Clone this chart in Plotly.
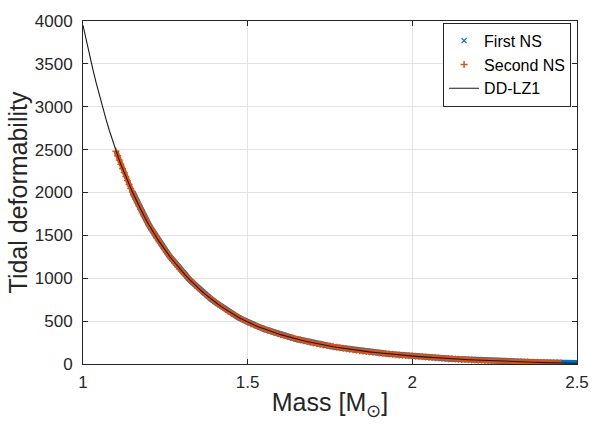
import plotly.graph_objects as go

# DD-LZ1 curve: mass [M_sun] and tidal deformability
mass = [1.00, 1.01, 1.02, 1.03, 1.04, 1.05, 1.06, 1.07, 1.08, 1.09,
        1.100, 1.105, 1.110, 1.115, 1.120, 1.125, 1.130, 1.135, 1.140, 1.145,
        1.150, 1.155, 1.160, 1.165, 1.170, 1.175, 1.180, 1.185, 1.190, 1.195,
        1.200, 1.205, 1.210, 1.215, 1.220, 1.225, 1.230, 1.235, 1.240, 1.245,
        1.250, 1.255, 1.260, 1.265, 1.270, 1.275, 1.280, 1.285, 1.290, 1.295,
        1.300, 1.31, 1.32, 1.33, 1.34, 1.35, 1.36, 1.37, 1.38, 1.39,
        1.40, 1.41, 1.42, 1.43, 1.44, 1.45, 1.46, 1.47, 1.48, 1.49,
        1.50, 1.51, 1.52, 1.53, 1.54, 1.55, 1.56, 1.57, 1.58, 1.59,
        1.60, 1.61, 1.62, 1.63, 1.64, 1.65, 1.66, 1.67, 1.68, 1.69,
        1.70, 1.71, 1.72, 1.73, 1.74, 1.75, 1.76, 1.77, 1.78, 1.79,
        1.80, 1.81, 1.82, 1.83, 1.84, 1.85, 1.86, 1.87, 1.88, 1.89,
        1.90, 1.91, 1.92, 1.93, 1.94, 1.95, 1.96, 1.97, 1.98, 1.99,
        2.00, 2.01, 2.02, 2.03, 2.04, 2.05, 2.06, 2.07, 2.08, 2.09,
        2.10, 2.11, 2.12, 2.13, 2.14, 2.15, 2.16, 2.17, 2.18, 2.19,
        2.20, 2.21, 2.22, 2.23, 2.24, 2.25, 2.26, 2.27, 2.28, 2.29,
        2.30, 2.31, 2.32, 2.33, 2.34, 2.35, 2.36, 2.37, 2.38, 2.39,
        2.40, 2.41, 2.42, 2.43, 2.44, 2.45, 2.46, 2.47, 2.48, 2.49,
        2.50]

tidal = [3950.0, 3770.5, 3599.2, 3435.7, 3279.6, 3130.6, 2988.3, 2852.5, 2722.9, 2599.2,
         2481.1, 2428.8, 2377.7, 2327.7, 2278.8, 2230.9, 2184.0, 2138.1, 2093.1, 2049.1,
         2006.0, 1963.8, 1922.5, 1882.1, 1842.5, 1803.8, 1765.9, 1728.8, 1692.4, 1656.8,
         1622.0, 1589.5, 1557.6, 1526.4, 1495.8, 1465.8, 1436.4, 1407.6, 1379.4, 1351.7,
         1324.6, 1298.0, 1272.0, 1246.5, 1221.5, 1197.0, 1173.0, 1149.5, 1126.5, 1103.9,
         1081.8, 1039.4, 998.6, 959.4, 921.8, 885.7, 851.0, 817.6, 785.5, 754.7,
         725.1, 696.7, 669.4, 643.2, 618.0, 593.8, 570.5, 548.1, 526.6, 506.0,
         486.2, 469.5, 453.4, 437.8, 422.7, 408.2, 394.2, 380.6, 367.5, 354.9,
         342.7, 331.4, 320.5, 309.9, 299.7, 289.8, 280.3, 271.1, 262.2, 253.6,
         245.2, 237.4, 229.8, 222.5, 215.4, 208.5, 201.8, 195.3, 189.1, 183.1,
         177.2, 171.6, 166.2, 161.0, 155.9, 151.0, 146.2, 141.6, 137.1, 132.8,
         128.6, 124.4, 120.4, 116.5, 112.7, 109.0, 105.5, 102.1, 98.8, 95.6,
         92.5, 89.3, 86.2, 83.2, 80.3, 77.5, 74.8, 72.2, 69.7, 67.3,
         65.0, 62.6, 60.3, 58.1, 55.9, 53.8, 51.8, 49.9, 48.0, 46.2,
         44.5, 42.6, 40.8, 39.1, 37.5, 35.9, 34.4, 33.0, 31.6, 30.3,
         29.0, 27.6, 26.3, 25.0, 23.8, 22.6, 21.5, 20.5, 19.5, 18.5,
         17.6, 16.5, 15.5, 14.5, 13.6, 12.7, 11.9, 11.2, 10.5, 9.8,
         9.2]

# Mass ranges covered by the two stars of the binary
first_ns_range = (1.15, 2.50)
second_ns_range = (1.10, 2.45)

first_m = [m for m in mass if first_ns_range[0] <= m <= first_ns_range[1]]
first_l = [l for m, l in zip(mass, tidal) if first_ns_range[0] <= m <= first_ns_range[1]]
second_m = [m for m in mass if second_ns_range[0] <= m <= second_ns_range[1]]
second_l = [l for m, l in zip(mass, tidal) if second_ns_range[0] <= m <= second_ns_range[1]]

x_ticks = [1, 1.5, 2, 2.5]
x_ticktext = ["1", "1.5", "2", "2.5"]
y_ticks = [0, 500, 1000, 1500, 2000, 2500, 3000, 3500, 4000]

BLUE = "#0072BD"
ORANGE = "#D95319"
AX = "#262626"
FONT = "Liberation Sans, Arial, Helvetica, sans-serif"

fig = go.Figure()
# Dense marker samples: in the original they overlap into continuous bands
fig.add_trace(go.Scatter(
    x=first_m, y=first_l, mode="lines+markers", showlegend=False, hoverinfo="skip",
    line=dict(color=BLUE, width=6.2),
    marker=dict(symbol="x-thin", size=4, color=BLUE, line=dict(color=BLUE, width=1)),
))
fig.add_trace(go.Scatter(
    x=second_m, y=second_l, mode="lines+markers", showlegend=False, hoverinfo="skip",
    line=dict(color=ORANGE, width=5),
    marker=dict(symbol="cross-thin", size=5, color=ORANGE, line=dict(color=ORANGE, width=1.3)),
))
# legend entries
fig.add_trace(go.Scatter(
    x=[None], y=[None], mode="markers", name="First NS",
    marker=dict(symbol="x-thin", size=5, color=BLUE, line=dict(color=BLUE, width=1.3)),
))
fig.add_trace(go.Scatter(
    x=[None], y=[None], mode="markers", name="Second NS",
    marker=dict(symbol="cross-thin", size=5, color=ORANGE, line=dict(color=ORANGE, width=1.5)),
))
fig.add_trace(go.Scatter(
    x=mass, y=tidal, mode="lines", name="DD-LZ1",
    line=dict(color="#1a1a1a", width=1.1),
))

axis_common = dict(
    showline=True, linecolor=AX, linewidth=1, mirror="ticks",
    ticks="inside", ticklen=5, tickwidth=1, tickcolor=AX,
    showgrid=True, gridcolor="#e3e3e3", gridwidth=1, zeroline=False,
    tickfont=dict(family=FONT, size=17, color=AX),
)

fig.update_layout(
    width=601, height=427,
    margin=dict(l=83, r=14, t=15, b=63, pad=0),
    paper_bgcolor="white", plot_bgcolor="white",
    font=dict(family=FONT, color=AX),
    xaxis=dict(range=[1, 2.5], tickvals=x_ticks, ticktext=x_ticktext,
               title=dict(text="Mass [M<sub>⊙</sub>]", font=dict(family=FONT, size=25, color=AX), standoff=2),
               ticklabelstandoff=3,
               **axis_common),
    yaxis=dict(range=[0, 4000], tickvals=y_ticks,
               title=dict(text="Tidal deformability", font=dict(family=FONT, size=25, color=AX), standoff=0),
               ticklabelstandoff=6,
               **axis_common),
    legend=dict(x=0.988, y=0.995, xanchor="right", yanchor="top",
                bgcolor="white", bordercolor=AX, borderwidth=1,
                font=dict(family=FONT, size=16, color="#000000"),
                itemwidth=30, tracegroupgap=0),
    showlegend=True,
)

fig.write_html("out.html")
